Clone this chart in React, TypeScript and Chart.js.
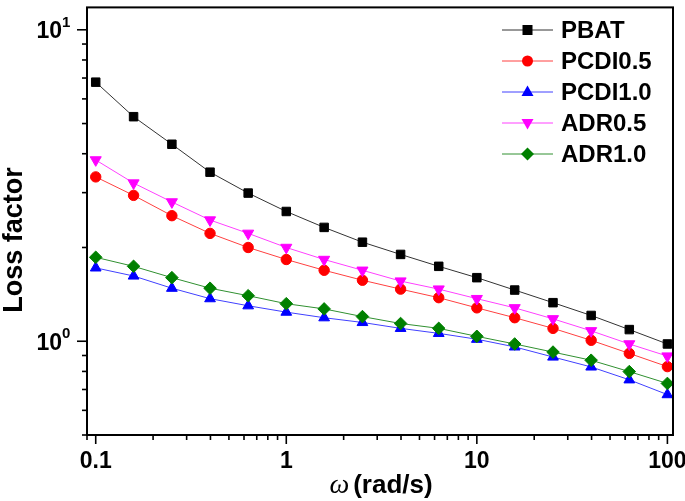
import React, { useEffect, useRef } from 'react';
import { Chart, registerables } from 'chart.js';

Chart.register(...registerables);

// ---- data ----
const omega = [0.1, 0.158, 0.251, 0.398, 0.631, 1, 1.58, 2.51, 3.98, 6.31, 10, 15.8, 25.1, 39.8, 63.1, 100];
const seriesNames = ['PBAT', 'PCDI0.5', 'PCDI1.0', 'ADR0.5', 'ADR1.0'];
const pbat = [6.79, 5.26, 4.29, 3.49, 2.99, 2.61, 2.32, 2.08, 1.9, 1.74, 1.6, 1.46, 1.33, 1.21, 1.09, 0.98];
const pcdi05 = [3.37, 2.94, 2.53, 2.22, 2.0, 1.83, 1.69, 1.57, 1.47, 1.38, 1.28, 1.19, 1.1, 1.007, 0.914, 0.829];
const pcdi10 = [1.72, 1.62, 1.48, 1.37, 1.3, 1.24, 1.19, 1.149, 1.1, 1.06, 1.015, 0.959, 0.89, 0.827, 0.752, 0.674];
const adr05 = [3.82, 3.22, 2.8, 2.45, 2.22, 2.0, 1.83, 1.69, 1.56, 1.47, 1.37, 1.28, 1.18, 1.08, 0.98, 0.896];
const adr10 = [1.86, 1.74, 1.6, 1.48, 1.4, 1.32, 1.27, 1.2, 1.14, 1.1, 1.037, 0.98, 0.923, 0.869, 0.799, 0.732];
const xTickValues = [0.1, 1, 10, 100];
const xTickLabels = ['0.1', '1', '10', '100'];
const yTickValues = [1, 10];
const yTickBase = ['10', '10'];
const yTickExp = ['0', '1'];
const xTitleSymbol = 'ω';
const xTitleRest = '(rad/s)';
const yTitle = 'Loss factor';

const seriesValues = [pbat, pcdi05, pcdi10, adr05, adr10];
const colors = ['#000000', '#ff0000', '#0000ff', '#ff00ff', '#008000'];
const lineColors = ['#333333', '#ff4040', '#4040ff', '#ff40ff', '#309030'];
const styles: any[] = ['rect', 'circle', 'triangle', 'triangle', 'rectRot'];
const rotations = [0, 0, 0, 180, 0];
const radii = [6, 5.2, 6.2, 6.4, 6.3];

const SANS = '"Liberation Sans", Arial, Helvetica, sans-serif';

function minorValues(min: number, max: number) {
  const out: number[] = [];
  for (let e = -3; e <= 3; e++) {
    for (let m = 1; m <= 9; m++) {
      const v = m * Math.pow(10, e);
      if (v >= min * 0.999 && v <= max * 1.001) out.push(v);
    }
  }
  return out;
}

function drawMarker(ctx: CanvasRenderingContext2D, kind: number, x: number, y: number) {
  ctx.beginPath();
  if (kind === 0) {
    const s = 5;
    ctx.rect(x - s, y - s, 2 * s, 2 * s);
  } else if (kind === 1) {
    ctx.arc(x, y, 5.5, 0, Math.PI * 2);
  } else if (kind === 2) {
    ctx.moveTo(x, y - 6.5);
    ctx.lineTo(x + 6, y + 4);
    ctx.lineTo(x - 6, y + 4);
    ctx.closePath();
  } else if (kind === 3) {
    ctx.moveTo(x, y + 6.5);
    ctx.lineTo(x + 6, y - 4);
    ctx.lineTo(x - 6, y - 4);
    ctx.closePath();
  } else {
    ctx.moveTo(x, y - 6.5);
    ctx.lineTo(x + 6.5, y);
    ctx.lineTo(x, y + 6.5);
    ctx.lineTo(x - 6.5, y);
    ctx.closePath();
  }
  ctx.fill();
}

const decorPlugin = {
  id: 'decor',
  afterDraw(chart: any) {
    const ctx = chart.ctx;
    const { left, right, top, bottom } = chart.chartArea;
    const xs = chart.scales.x;
    const ys = chart.scales.y;
    ctx.save();
    ctx.strokeStyle = '#000';
    ctx.fillStyle = '#000';
    ctx.lineWidth = 2;
    ctx.strokeRect(left, top, right - left, bottom - top);

    // x ticks
    ctx.lineWidth = 1.6;
    for (const v of minorValues(xs.min, xs.max)) {
      const px = xs.getPixelForValue(v);
      const major = Math.abs(Math.log10(v) - Math.round(Math.log10(v))) < 1e-6;
      ctx.beginPath();
      ctx.moveTo(px, bottom);
      ctx.lineTo(px, bottom + (major ? 9 : 5));
      ctx.stroke();
    }
    // y ticks
    for (const v of minorValues(ys.min, ys.max)) {
      const py = ys.getPixelForValue(v);
      const major = Math.abs(Math.log10(v) - Math.round(Math.log10(v))) < 1e-6;
      ctx.beginPath();
      ctx.moveTo(left, py);
      ctx.lineTo(left - (major ? 10 : 5), py);
      ctx.stroke();
    }

    // x tick labels
    ctx.font = `bold 23px ${SANS}`;
    ctx.textAlign = 'center';
    ctx.textBaseline = 'middle';
    xTickValues.forEach((v, i) => {
      ctx.fillText(xTickLabels[i], xs.getPixelForValue(v), bottom + 27);
    });

    // y tick labels with superscript
    yTickValues.forEach((v, i) => {
      const py = ys.getPixelForValue(v);
      ctx.font = `bold 23px ${SANS}`;
      ctx.textAlign = 'right';
      ctx.textBaseline = 'middle';
      ctx.fillText(yTickBase[i], left - 25, py + 2);
      ctx.font = `bold 15px ${SANS}`;
      ctx.textAlign = 'left';
      ctx.fillText(yTickExp[i], left - 25, py - 7);
    });

    // y title
    ctx.save();
    ctx.translate(15, 240);
    ctx.rotate(-Math.PI / 2);
    ctx.font = `bold 27px ${SANS}`;
    ctx.textAlign = 'center';
    ctx.textBaseline = 'middle';
    ctx.fillText(yTitle, 0, 0);
    ctx.restore();

    // x title
    ctx.textBaseline = 'alphabetic';
    ctx.textAlign = 'left';
    ctx.font = `italic 28px "Liberation Serif", "Times New Roman", serif`;
    const w1 = ctx.measureText(xTitleSymbol).width;
    ctx.font = `bold 26px ${SANS}`;
    const w2 = ctx.measureText(xTitleRest).width;
    const gap = 4;
    const total = w1 + gap + w2;
    const cx = (left + right) / 2 + 1;
    const x0 = cx - total / 2;
    ctx.font = `italic 28px "Liberation Serif", "Times New Roman", serif`;
    ctx.fillText(xTitleSymbol, x0, 493);
    ctx.font = `bold 26px ${SANS}`;
    ctx.fillText(xTitleRest, x0 + w1 + gap, 493);

    // legend
    const lx0 = 502, lx1 = 553, tx = 561, y0 = 30, dy = 31;
    seriesNames.forEach((name, i) => {
      const y = y0 + i * dy;
      ctx.strokeStyle = lineColors[i];
      ctx.lineWidth = 1;
      ctx.beginPath();
      ctx.moveTo(lx0, y);
      ctx.lineTo(lx1, y);
      ctx.stroke();
      ctx.fillStyle = colors[i];
      drawMarker(ctx, i, (lx0 + lx1) / 2, y);
      ctx.fillStyle = '#000';
      ctx.font = `bold 24px ${SANS}`;
      ctx.textAlign = 'left';
      ctx.textBaseline = 'middle';
      ctx.fillText(name, tx, y + 1);
    });
    ctx.restore();
  },
};

export default function App() {
  const ref = useRef<HTMLCanvasElement | null>(null);
  useEffect(() => {
    document.body.style.margin = '0';
    const canvas = ref.current!;
    const chart = new Chart(canvas, {
      type: 'line',
      data: {
        datasets: seriesNames.map((name, i) => ({
          label: name,
          data: omega.map((x, j) => ({ x, y: seriesValues[i][j] })),
          borderColor: lineColors[i],
          backgroundColor: colors[i],
          pointBackgroundColor: colors[i],
          pointBorderColor: colors[i],
          pointBorderWidth: 1,
          pointStyle: styles[i],
          pointRotation: rotations[i],
          pointRadius: radii[i],
          borderWidth: 1,
          tension: 0,
          order: 5 - i,
        })),
      },
      options: {
        responsive: false,
        animation: false,
        events: [],
        layout: { padding: { top: 2, right: 12, left: 0, bottom: 0 } },
        plugins: { legend: { display: false }, tooltip: { enabled: false } },
        scales: {
          x: {
            type: 'logarithmic',
            min: 0.09,
            max: 107,
            ticks: { display: false },
            grid: { display: false },
            border: { display: false },
            afterFit: (s: any) => { s.height = 66; },
          },
          y: {
            type: 'logarithmic',
            min: 0.5,
            max: 11.8,
            ticks: { display: false },
            grid: { display: false },
            border: { display: false },
            afterFit: (s: any) => { s.width = 87; },
          },
        },
      } as any,
      plugins: [decorPlugin],
    });
    return () => chart.destroy();
  }, []);
  return (
    <div style={{ width: 685, height: 501, background: '#fff' }}>
      <canvas ref={ref} width={685} height={501} style={{ display: 'block' }} />
    </div>
  );
}
